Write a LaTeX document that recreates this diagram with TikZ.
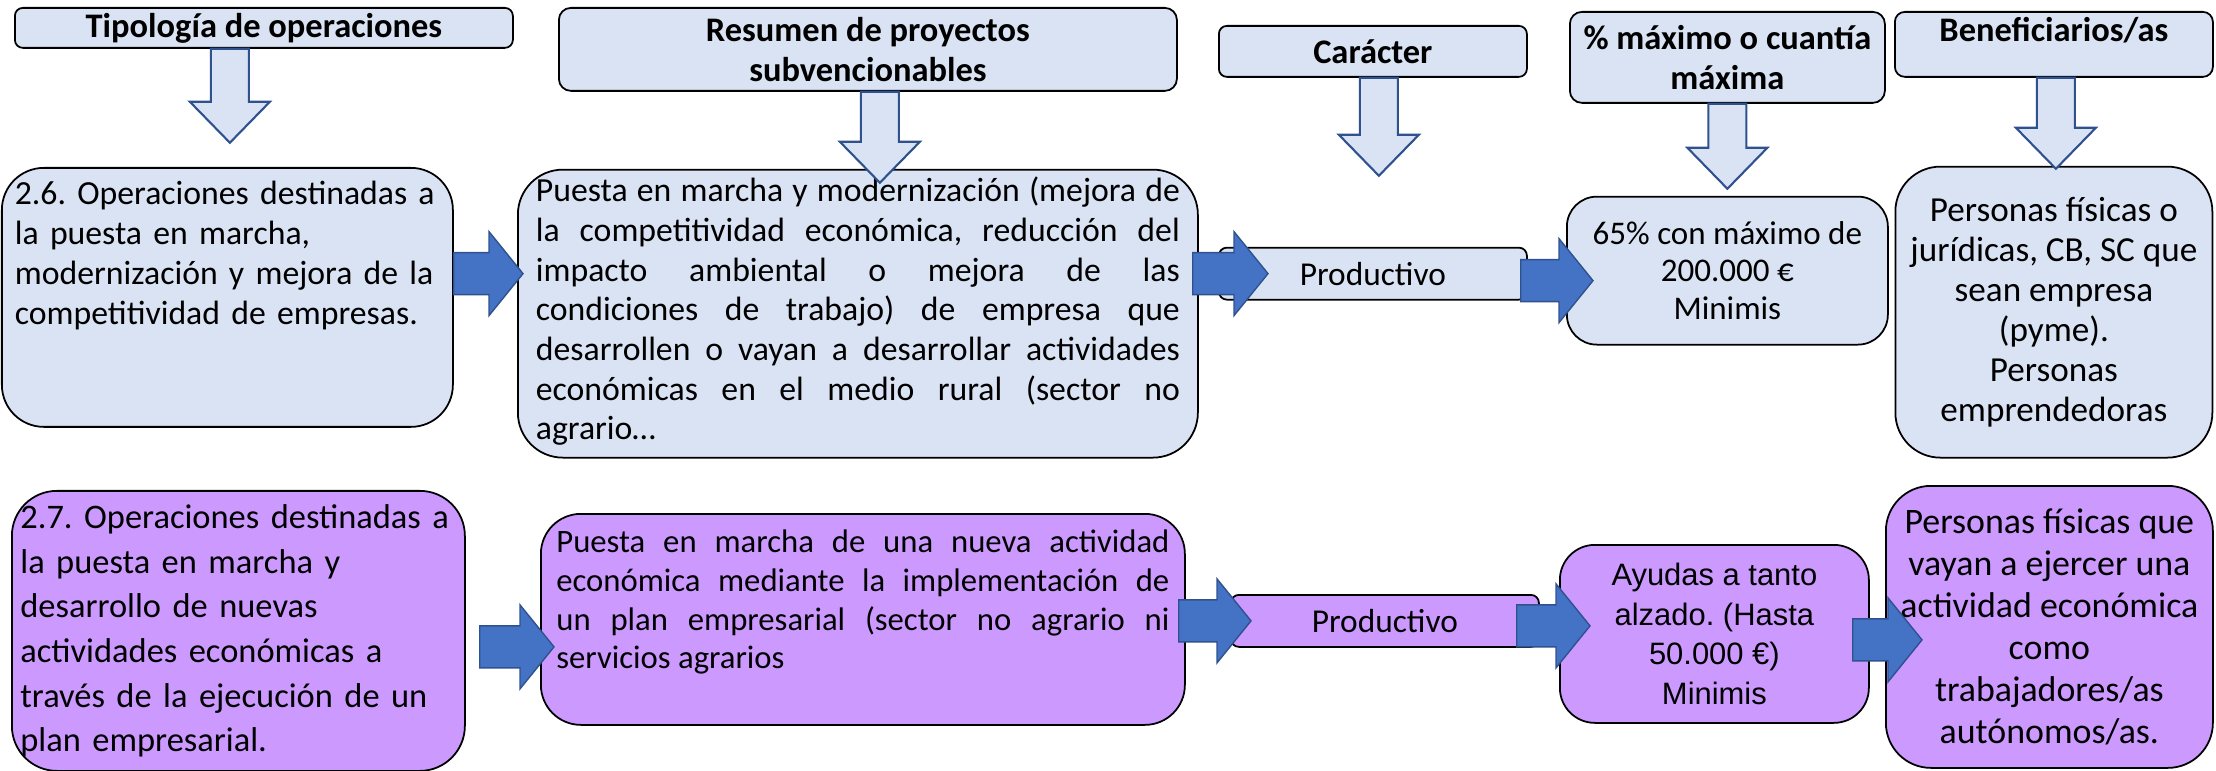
\documentclass[tikz,border=0pt]{standalone}
\usepackage{fontspec}
\setmainfont{Carlito}
\newfontfamily\arialfont{Liberation Sans}
\usetikzlibrary{positioning,calc}
\frenchspacing

\definecolor{azulclaro}{HTML}{DAE3F3}
\definecolor{lila}{HTML}{CC99FF}
\definecolor{azulflecha}{HTML}{4472C4}
\definecolor{bordeflecha}{HTML}{2F528F}

\tikzstyle{Cabecera}=[rectangle, draw=black, line width=0.5pt, fill=azulclaro, rounded corners=0.08cm, align=center, inner sep=0pt, font=\fontsize{9.8}{11.4}\selectfont\bfseries]
\tikzstyle{CajaAzul}=[rectangle, draw=black, line width=0.5pt, fill=azulclaro, rounded corners=0.42cm, inner sep=0.13cm]
\tikzstyle{CajaLila}=[CajaAzul, fill=lila]
\tikzstyle{CajaPlana}=[rectangle, draw=black, line width=0.5pt, rounded corners=0.08cm, minimum width=3.08cm, minimum height=0.52cm, inner sep=0pt, font=\fontsize{9.5}{11}\selectfont]
\tikzstyle{FlechaGorda}=[draw=bordeflecha, fill=azulflecha, line width=0.4pt, to path={let \p1=(\tikztostart), \p2=(\tikztotarget) in (\x1,\y1+0.21cm) -- (\x2-0.34cm,\y1+0.21cm) -- (\x2-0.34cm,\y1+0.42cm) -- (\x2,\y1) -- (\x2-0.34cm,\y1-0.42cm) -- (\x2-0.34cm,\y1-0.21cm) -- (\x1,\y1-0.21cm) -- cycle}]
\tikzstyle{FlechaHueca}=[draw=bordeflecha, fill=azulclaro, line width=0.6pt, to path={let \p1=(\tikztostart), \p2=(\tikztotarget) in (\x1-0.19cm,\y1) -- (\x1-0.19cm,\y2+0.41cm) -- (\x1-0.40cm,\y2+0.41cm) -- (\x1,\y2) -- (\x1+0.40cm,\y2+0.41cm) -- (\x1+0.19cm,\y2+0.41cm) -- (\x1+0.19cm,\y1) -- cycle}]

\begin{document}
\begin{tikzpicture}[x=1cm, y=-1cm]
	\useasboundingbox (0,0) rectangle (22.16,7.71);

	%Cabeceras
	\node[Cabecera, anchor=north west, minimum width=4.98cm, minimum height=0.40cm]	(H1) at (0.14,0.07)	{Tipología de operaciones};
	\node[Cabecera, anchor=north west, minimum width=6.18cm, minimum height=0.83cm, rounded corners=0.12cm]	(H2) at (5.58,0.07)	{Resumen de proyectos\\subvencionables};
	\node[Cabecera, anchor=north west, minimum width=3.08cm, minimum height=0.51cm]	(H3) at (12.18,0.25)	{Carácter};
	\node[Cabecera, anchor=north west, minimum width=3.15cm, minimum height=0.91cm, rounded corners=0.12cm]	(H4) at (15.69,0.11)	{\% máximo o cuantía\\máxima};
	\node[Cabecera, anchor=north west, minimum width=3.18cm, minimum height=0.65cm, rounded corners=0.1cm, text depth=0.29cm]	(H5) at (18.94,0.11)	{Beneficiarios/as};

	%Fila 2.6
	\node[CajaAzul, anchor=north west, text width=4.25cm, align=left, inner ysep=0.12cm, text height=0.25cm, text depth=2.10cm, font=\fontsize{9.6}{11.3}\selectfont]	(B26) at (0.01,1.67)
		{2.6. Operaciones destinadas a\\la puesta en marcha,\\modernización y mejora de la\\competitividad de empresas.};
	\node[CajaAzul, below=0.77cm of H2, xshift=-0.1cm, text width=6.44cm, align=justify, inner xsep=0.18cm, inner ysep=0.08cm, text height=0.24cm, text depth=2.48cm, rounded corners=0.45cm, font=\fontsize{9.6}{11.3}\selectfont]	(R26)
		{Puesta en marcha y modernización (mejora de\linebreak la competitividad económica, reducción del\linebreak impacto ambiental o mejora de las\linebreak condiciones de trabajo) de empresa que\linebreak desarrollen o vayan a desarrollar actividades\linebreak económicas en el medio rural (sector no\linebreak agrario…};
	\node[CajaPlana, fill=azulclaro, below=1.69cm of H3]	(P26)	{Productivo};
	\node[CajaAzul, below=0.92cm of H4, minimum width=3.21cm, minimum height=1.48cm, align=center, rounded corners=0.3cm, font=\fontsize{9.4}{10.8}\selectfont]	(M26)
		{65\% con máximo de\\200.000 €\\Minimis};
	\node[CajaAzul, below=0.88cm of H5, minimum width=3.17cm, minimum height=2.91cm, align=center, rounded corners=0.45cm, font=\fontsize{10}{11.4}\selectfont]	(Q26)
		{Personas físicas o\\jurídicas, CB, SC que\\sean empresa\\(pyme).\\Personas\\emprendedoras};

	%Fila 2.7
	\node[CajaLila, anchor=north west, minimum width=4.53cm, minimum height=2.80cm, text width=4.36cm, inner xsep=0.085cm, align=left, rounded corners=0.45cm, font=\fontsize{9.8}{12.7}\selectfont]	(B27) at (0.11,4.90)
		{2.7. Operaciones destinadas a\\la puesta en marcha y\\desarrollo de nuevas\\actividades económicas a\\través de la ejecución de un\\plan empresarial.};
	\node[CajaLila, anchor=north west, text width=6.13cm, align=justify, inner xsep=0.155cm, inner ysep=0.15cm, text height=0.24cm, text depth=1.57cm, rounded corners=0.4cm, font=\fontsize{9.3}{11}\selectfont]	(R27) at (5.40,5.13)
		{Puesta en marcha de una nueva actividad\linebreak económica mediante la implementación de\linebreak un plan empresarial (sector no agrario ni\linebreak servicios agrarios};
	\node[CajaPlana, fill=lila, anchor=north west]	(P27) at (12.30,5.94)	{Productivo};
	\node[CajaLila, anchor=north west, minimum width=3.09cm, minimum height=1.78cm, align=center, rounded corners=0.35cm, font=\arialfont\fontsize{8.8}{11.3}\selectfont]	(A27) at (15.59,5.44)
		{Ayudas a tanto\\alzado. (Hasta\\50.000 €)\\Minimis};
	\node[CajaLila, anchor=north west, minimum width=3.27cm, minimum height=2.82cm, align=center, rounded corners=0.45cm, font=\fontsize{10.2}{11.9}\selectfont]	(Q27) at (18.85,4.85)
		{Personas físicas que\\vayan a ejercer una\\actividad económica\\como\\trabajadores/as\\autónomos/as.};

	%Flechas huecas
	\coordinate (p1) at ([shift={(-0.34,0.94)}]H1.south);
	\coordinate (p2) at ([shift={(0.12,0.91)}]H2.south);
	\coordinate (p3) at ([shift={(0.06,0.98)}]H3.south);
	\coordinate (p4) at ([shift={(0,0.85)}]H4.south);
	\coordinate (p5) at ([shift={(0.02,0.91)}]H5.south);
	\draw[FlechaHueca] ([xshift=-0.34cm]H1.south) to (p1);
	\draw[FlechaHueca] ([xshift=0.12cm]H2.south) to (p2);
	\draw[FlechaHueca] ([xshift=0.06cm]H3.south) to (p3);
	\draw[FlechaHueca] (H4.south) to (p4);
	\draw[FlechaHueca] ([xshift=0.02cm]H5.south) to (p5);

	%Flechas
	\draw[FlechaGorda] (B26.east |- P26.west) to ([xshift=0.06cm]R26.west);
	\draw[FlechaGorda] ([xshift=-0.06cm]R26.east |- P26.west) to ([xshift=0.5cm]P26.west);
	\draw[FlechaGorda] ([xshift=-0.07cm, yshift=-0.07cm]P26.east) to ([xshift=0.27cm]M26.west);

	\draw[FlechaGorda] ([xshift=0.14cm, yshift=-0.16cm]B27.east) to ([xshift=0.14cm]R27.west);
	\draw[FlechaGorda] ([xshift=-0.07cm]R27.east |- P27.west) to ([xshift=0.21cm]P27.west);
	\draw[FlechaGorda] ([xshift=-0.23cm, yshift=-0.05cm]P27.east) to ([xshift=0.31cm]A27.west);
	\draw[FlechaGorda] ([xshift=-0.17cm, yshift=-0.06cm]A27.east) to ([xshift=0.37cm]Q27.west);

\end{tikzpicture}
\end{document}
